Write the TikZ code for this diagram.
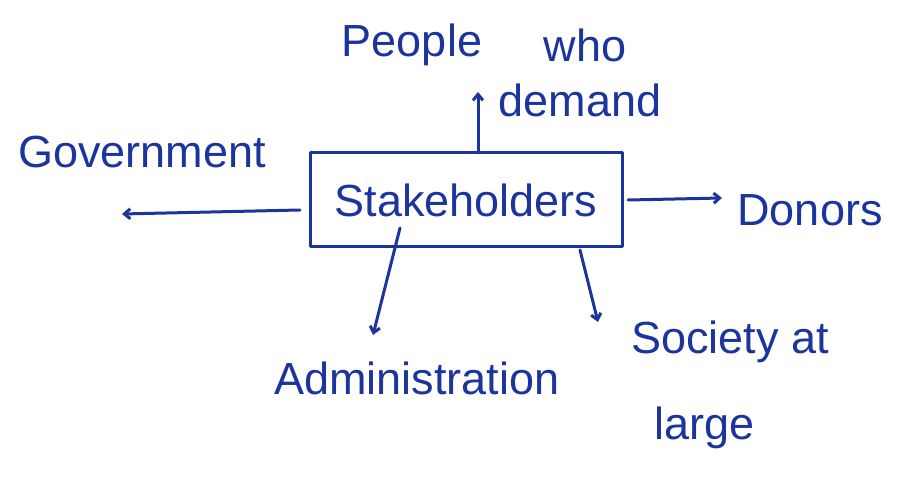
\documentclass[tikz,border=0pt]{standalone}
\usepackage{fontspec}
\setmainfont{Liberation Sans}
\usetikzlibrary{arrows.meta}
\definecolor{ink}{RGB}{28,52,158}
\begin{document}
\begin{tikzpicture}[x=1pt,y=-1pt,
  ink/.style={draw=ink,line width=3pt,line cap=round,line join=round},
  arr/.style={ink,-{Straight Barb[length=6pt,width=10pt]}},
  lbl/.style={text=ink,font=\fontsize{45}{50}\selectfont,inner sep=0pt,anchor=center}]
\useasboundingbox[fill=white] (0,0) rectangle (898,502);
% central box
\node[ink,minimum width=312pt,minimum height=94pt,inner sep=0pt] (sh) at (466,200) {};
\node[lbl] (shtext) at (sh.center) {Stakeholders};
% labels around the box
\node[lbl] (people) at (412,45) {People};
\node[lbl] (who) at (585,45) {who};
\node[lbl] (demand) at (580,100) {demand};
\node[lbl] (gov) at (142,152) {Government};
\node[lbl] (don) at (810,210) {Donors};
\node[lbl] (adm) at (417,378) {Administration};
\node[lbl] (soc) at (730,342) {Society at};
\node[lbl] (large) at (705,428) {large};
% arrow end points
\coordinate (up0) at (478,153);
\coordinate (up1) at (478,92);
\coordinate (lf0) at (300,210);
\coordinate (lf1) at (122,214);
\coordinate (rt0) at (628,200);
\coordinate (rt1) at (722,198);
\coordinate (dn0) at (400,228);
\coordinate (dn1) at (373,335);
\coordinate (dr0) at (580,250);
\coordinate (dr1) at (598,322);
\draw[arr] (up0) -- (up1);
\draw[arr] (lf0) -- (lf1);
\draw[arr] (rt0) -- (rt1);
\draw[arr] (dn0) -- (dn1);
\draw[arr] (dr0) -- (dr1);
\end{tikzpicture}
\end{document}
